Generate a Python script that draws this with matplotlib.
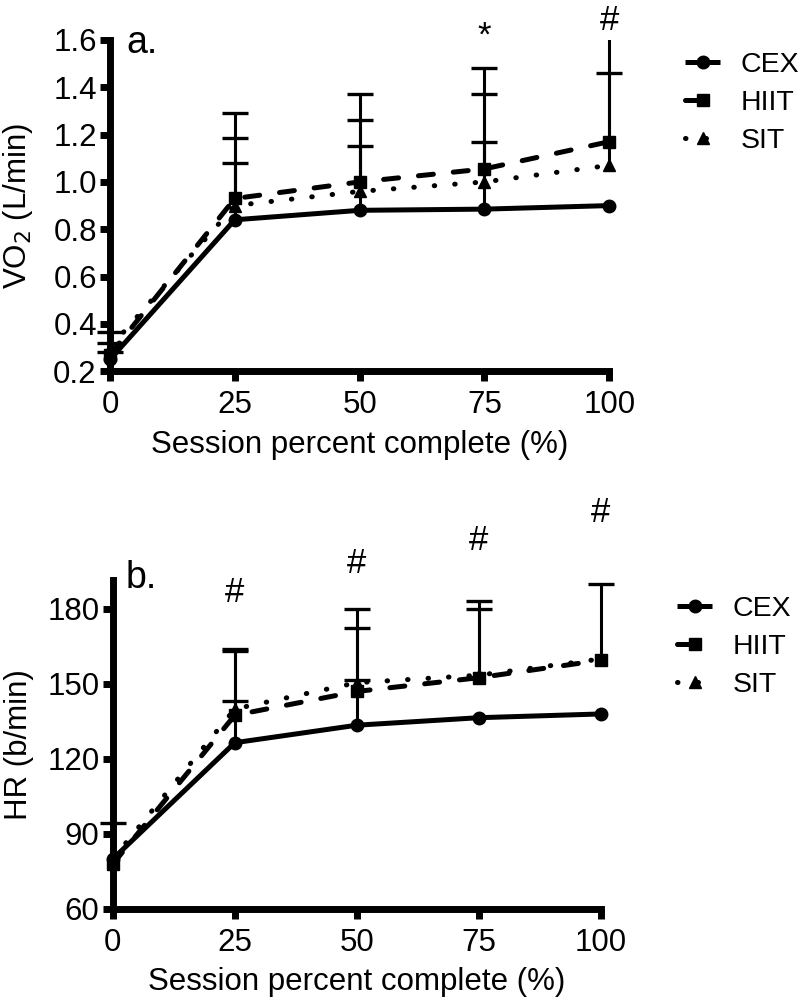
"""Two-panel line chart: VO2 and HR across session percent complete."""

import matplotlib
matplotlib.use("Agg")
import matplotlib.pyplot as plt
from matplotlib.patches import Rectangle
import numpy as np

plt.rcParams["font.family"] = ["Liberation Sans", "DejaVu Sans"]

pct = [0, 25, 50, 75, 100]
groups = ["CEX", "HIIT", "SIT"]

# panel a: VO2 (L/min), means and top of the SD bar (nan = not visible)
vo2_mean = {
    "CEX": [0.25, 0.84, 0.88, 0.885, 0.90],
    "HIIT": [0.27, 0.93, 1.00, 1.055, 1.17],
    "SIT": [0.30, 0.90, 0.96, 1.00, 1.07],
}
vo2_top = {
    "CEX": [0.28, 1.08, 1.15, 1.17, np.nan],
    "HIIT": [0.32, 1.29, 1.37, 1.48, 1.75],
    "SIT": [0.365, 1.185, 1.26, 1.37, 1.46],
}

# panel b: HR (b/min)
hr_mean = {
    "CEX": [80, 126.5, 133.5, 136.5, 138],
    "HIIT": [78, 137.5, 147, 152.5, 159.5],
    "SIT": [80, 140, 150.5, 153.5, 160],
}
hr_top = {
    "CEX": [np.nan, 143, 151.5, np.nan, np.nan],
    "HIIT": [94.5, 164, 180, 183, 190],
    "SIT": [np.nan, 163, 172.5, 180, np.nan],
}

# significance marks: x -> (symbol, baseline y in data units)
vo2_marks = {75: ("*", 1.575), 100: ("#", 1.642)}
hr_marks = {25: ("#", 182.8), 50: ("#", 194.4), 75: ("#", 203.6),
            100: ("#", 214.8)}

style = {
    "CEX": dict(marker="o", ls="-", ms=9),
    "HIIT": dict(marker="s", ls=(0, (3, 4)), ms=9),
    "SIT": dict(marker="^", ls=(0, (0.1, 4)), ms=8.5),
}

FS = 22.5


def panel(ax, means, tops, ylim, yticks, fmt, ylabel, tag, tag_xy, marks):
    # clip error bars only at the top of the axes
    clip = Rectangle((-0.2, -0.2), 1.4, 1.2, transform=ax.transAxes,
                     visible=False)
    ax.add_artist(clip)
    for g in groups:
        m = np.array(means[g], dtype=float)
        up = np.array(tops[g], dtype=float) - m
        eb = ax.errorbar(pct, m, yerr=[np.zeros_like(up), up], fmt="none",
                         ecolor="black", elinewidth=2.2, capsize=9.5,
                         capthick=2.4, zorder=2)
        eb[1][0].set_visible(False)
        for art in list(eb[1]) + list(eb[2]):
            art.set_clip_path(clip)
        ax.plot(pct, m, color="black", lw=3.6, dash_capstyle="round",
                solid_capstyle="butt", clip_on=False, zorder=3, label=g,
                **style[g])
    ax.set_xlim(0, 100)
    ax.set_ylim(*ylim)
    ax.set_xticks(pct)
    ax.set_yticks(yticks)
    ax.set_yticklabels([fmt.format(v) for v in yticks])
    for s in ("top", "right"):
        ax.spines[s].set_visible(False)
    for s in ("left", "bottom"):
        ax.spines[s].set_linewidth(5)
    ax.tick_params(direction="out", length=7.5, width=5, labelsize=FS)
    ax.tick_params(axis="y", pad=2)
    ax.tick_params(axis="x", pad=6)
    ax.set_xlabel("Session percent complete (%)", fontsize=FS, labelpad=7)
    ax.set_ylabel(ylabel, fontsize=FS)
    ax.text(*tag_xy, tag, transform=ax.transAxes, fontsize=27,
            va="baseline", ha="left")
    for x, (s, y) in marks.items():
        ax.text(x, y, s, fontsize=25, ha="center", va="baseline",
                clip_on=False)


fig = plt.figure(figsize=(8, 9.98), dpi=100)
ax1 = fig.add_axes([0.1375, 0.628, 0.624, 0.332])
ax2 = fig.add_axes([0.141, 0.0892, 0.610, 0.3297])

panel(ax1, vo2_mean, vo2_top, (0.2, 1.6), np.arange(0.2, 1.61, 0.2),
      "{:.1f}", "VO$_2$ (L/min)", "a.", (0.032, 0.961), vo2_marks)
panel(ax2, hr_mean, hr_top, (60, 191.6), [60, 90, 120, 150, 180],
      "{:d}", "HR (b/min)", "b.", (0.027, 0.976), hr_marks)

ax1.yaxis.set_label_coords(-0.150, 0.5)
ax2.yaxis.set_label_coords(-0.162, 0.5)

for ax, x, y in ((ax1, 0.856, 0.948), (ax2, 0.846, 0.403)):
    ax.legend(loc="upper left", bbox_to_anchor=(x, y),
              bbox_transform=fig.transFigure, frameon=False, fontsize=20.5,
              handlelength=1.25, handletextpad=0.7, labelspacing=0.42,
              borderpad=0, borderaxespad=0)

fig.savefig("out.png", dpi=100)
